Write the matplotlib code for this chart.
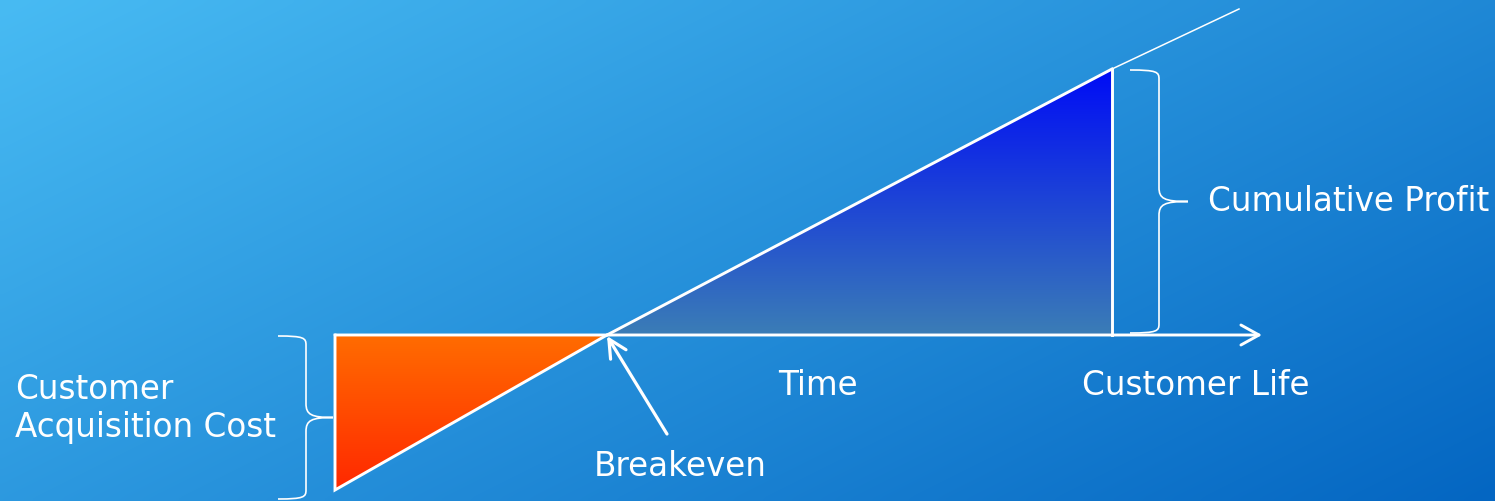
import numpy as np
import matplotlib
matplotlib.use("Agg")
import matplotlib.pyplot as plt
from matplotlib.path import Path
from matplotlib.patches import PathPatch, Polygon
from matplotlib.colors import LinearSegmentedColormap

# ---- data (time vs cumulative profit, arbitrary units) ----
milestones = ["Start", "Breakeven", "Customer Life", "Line end"]
time_pts = [0, 272, 777, 904]
profit_pts = [-155, 0, 266, 326]
labels_text = {
    "cac": ["Customer", "Acquisition Cost"],
    "profit": "Cumulative Profit",
    "time": "Time",
    "life": "Customer Life",
    "breakeven": "Breakeven",
}

W, H = 1495, 501
fig = plt.figure(figsize=(W / 100, H / 100), dpi=100)
ax = fig.add_axes([0, 0, 1, 1])
x0, x1 = -335, 1160
y0, y1 = -166, 335
ax.set_xlim(x0, x1)
ax.set_ylim(y0, y1)
ax.axis("off")

# ---- background gradient ----
c_tl = np.array([72, 187, 243]) / 255
c_br = np.array([4, 102, 194]) / 255
nx, ny = 300, 100
gx = np.linspace(0, 1, nx)[None, :]
gy = np.linspace(0, 1, ny)[:, None]
tt = 0.6 * gx + 0.4 * gy
bg = c_tl[None, None, :] * (1 - tt[..., None]) + c_br[None, None, :] * tt[..., None]
ax.imshow(bg, extent=(x0, x1, y0, y1), origin="upper", aspect="auto", zorder=0,
          interpolation="bicubic")

t0, tb, tl, te = time_pts
p0, pb, pl, pe = profit_pts

# ---- gradient triangles ----
def grad_triangle(verts, top_col, bot_col, z):
    poly = Polygon(verts, closed=True, facecolor="none", edgecolor="none")
    ax.add_patch(poly)
    xs = [v[0] for v in verts]
    ys = [v[1] for v in verts]
    cmap = LinearSegmentedColormap.from_list("g", [bot_col, top_col])
    grad = np.linspace(0, 1, 256)[:, None]
    im = ax.imshow(grad, extent=(min(xs), max(xs), min(ys), max(ys)), origin="lower",
                   cmap=cmap, aspect="auto", zorder=z, interpolation="bilinear")
    im.set_clip_path(poly)

grad_triangle([(t0, pb), (t0, p0), (tb, pb)], "#FF6C00", "#FF2800", 2)
grad_triangle([(tb, pb), (tl, pl), (tl, pb)], "#000CF6", "#3B7DB6", 2)

white = "white"
lw_main = 2.1
# orange triangle outline
ax.plot([t0, t0, tb], [pb, p0, pb], color=white, lw=lw_main, zorder=4,
        solid_joinstyle="miter")
# profit line
ax.plot([tb, tl], [pb, pl], color=white, lw=lw_main, zorder=4)
ax.plot([tl, te], [pl, pe], color=white, lw=1.1, zorder=4)
ax.plot([tl, tl], [pb, pl], color=white, lw=lw_main, zorder=4)

# time axis arrow
ax.annotate("", xy=(927, 0), xytext=(t0, 0),
            arrowprops=dict(arrowstyle="->,head_length=13,head_width=7.2",
                            mutation_scale=1, color=white, lw=2.1,
                            shrinkA=0, shrinkB=0), zorder=5)
# breakeven arrow
ax.annotate("", xy=(tb, -1), xytext=(tb + 60, -99),
            arrowprops=dict(arrowstyle="->,head_length=13,head_width=6.5",
                            mutation_scale=1, color=white, lw=2.3,
                            shrinkA=0, shrinkB=0), zorder=5)

# ---- braces ----
def brace(xe, xs, xt, ytop, ybot, r_end=9, r_mid=14):
    ym = (ytop + ybot) / 2
    sgn = 1 if ytop > ybot else -1
    verts = [
        (xe, ytop),
        (xs - 2, ytop), (xs, ytop - sgn * 2), (xs, ytop - sgn * r_end),
        (xs, ym + sgn * r_mid),
        (xs, ym + sgn * 3), (xs + 5, ym), (xt, ym),
        (xs + 5, ym), (xs, ym - sgn * 3), (xs, ym - sgn * r_mid),
        (xs, ybot + sgn * r_end),
        (xs, ybot + sgn * 2), (xs - 2, ybot), (xe, ybot),
    ]
    codes = [Path.MOVETO,
             Path.CURVE4, Path.CURVE4, Path.CURVE4,
             Path.LINETO,
             Path.CURVE4, Path.CURVE4, Path.CURVE4,
             Path.CURVE4, Path.CURVE4, Path.CURVE4,
             Path.LINETO,
             Path.CURVE4, Path.CURVE4, Path.CURVE4]
    ax.add_patch(PathPatch(Path(verts, codes), facecolor="none", edgecolor=white,
                           lw=1.2, zorder=4))

brace(t0 - 57, t0 - 29, t0 - 2, pb - 1, p0 - 9)
brace(tl + 18, tl + 47, tl + 76, pl - 1, pb + 2)

# ---- texts ----
fs = 23.5
font = dict(color=white, fontsize=fs, family="DejaVu Sans")
ax.text(t0 - 320, -64, labels_text["cac"][0], ha="left", va="baseline", **font)
ax.text(t0 - 320, -102, labels_text["cac"][1], ha="left", va="baseline", **font)
ax.text(tl + 96, 124, labels_text["profit"], ha="left", va="baseline", **font)
ax.text(483, -60, labels_text["time"], ha="center", va="baseline", **font)
ax.text(tl + 84, -60, labels_text["life"], ha="center", va="baseline", **font)
ax.text(tb + 73, -141, labels_text["breakeven"], ha="center", va="baseline", **font)

fig.savefig("out.png", dpi=100)
